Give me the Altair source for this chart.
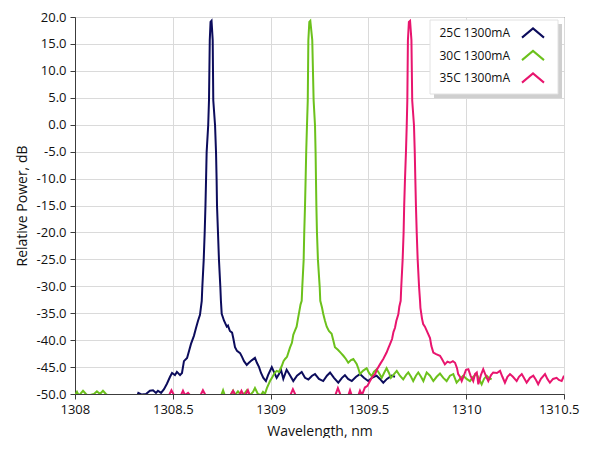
import altair as alt
import pandas as pd

series_names = ["25C 1300mA", "30C 1300mA", "35C 1300mA"]
series_colors = ["#0c0c5c", "#6cc11c", "#e8156e"]
x_ticks = [1308, 1308.5, 1309, 1309.5, 1310, 1310.5]
y_ticks = [-50, -45, -40, -35, -30, -25, -20, -15, -10, -5, 0, 5, 10, 15, 20]

blue_points = [
    (1308.000, -51), (1308.312, -51), (1308.324, -49.8), (1308.342, -50.1), (1308.363, -50.0),
    (1308.383, -49.4), (1308.399, -49.3), (1308.414, -49.8), (1308.424, -49.4), (1308.440, -49.8),
    (1308.455, -49.1), (1308.470, -48.1), (1308.486, -46.8), (1308.496, -46.1), (1308.511, -46.5),
    (1308.521, -45.9), (1308.537, -46.5), (1308.547, -46.1), (1308.557, -43.9), (1308.573, -43.3),
    (1308.583, -42.0), (1308.593, -40.7), (1308.608, -39.2), (1308.619, -37.7), (1308.629, -36.4),
    (1308.639, -35.3), (1308.648, -32.7), (1308.651, -30.1), (1308.658, -25.1), (1308.663, -20.0),
    (1308.667, -15.0), (1308.670, -10.2), (1308.673, -5.1), (1308.681, -0.1), (1308.685, 4.5),
    (1308.689, 15.7), (1308.693, 19.1), (1308.698, 19.3), (1308.704, 15.7), (1308.707, 4.5),
    (1308.716, -0.1), (1308.721, -5.1), (1308.724, -10.2), (1308.726, -15.0), (1308.731, -20.0),
    (1308.736, -25.1), (1308.743, -30.1), (1308.746, -32.7), (1308.750, -35.1), (1308.762, -36.4),
    (1308.776, -37.5), (1308.782, -37.3), (1308.792, -38.3), (1308.803, -38.6), (1308.809, -39.6),
    (1308.818, -41.3), (1308.828, -42.0), (1308.844, -42.4), (1308.854, -43.1), (1308.864, -43.9),
    (1308.878, -44.6), (1308.889, -44.2), (1308.905, -43.7), (1308.920, -43.3), (1308.930, -44.2),
    (1308.941, -45.0), (1308.951, -46.1), (1308.963, -47.0), (1308.976, -47.6), (1308.987, -46.5),
    (1309.006, -45.0), (1309.017, -45.9), (1309.031, -47.0), (1309.043, -46.3), (1309.053, -45.5),
    (1309.065, -47.2), (1309.082, -45.5), (1309.099, -46.5), (1309.116, -47.6), (1309.135, -46.6),
    (1309.159, -45.9), (1309.176, -47.0), (1309.193, -47.3), (1309.212, -46.6), (1309.227, -46.3),
    (1309.247, -47.2), (1309.269, -47.6), (1309.288, -46.6), (1309.304, -46.0), (1309.324, -47.0),
    (1309.346, -47.9), (1309.365, -47.0), (1309.380, -46.5), (1309.396, -47.2), (1309.415, -47.6),
    (1309.437, -46.8), (1309.457, -46.3), (1309.477, -47.0), (1309.499, -47.6), (1309.518, -47.0),
    (1309.542, -46.6), (1309.559, -47.2), (1309.576, -47.9), (1309.595, -47.2), (1309.619, -46.6),
    (1309.636, -46.8),
]

green_points = [
    (1308.000, -50.2), (1308.010, -49.6), (1308.020, -50.3), (1308.041, -49.4), (1308.056, -50.0),
    (1308.066, -50.3), (1308.097, -50.0), (1308.112, -49.5), (1308.128, -50.0), (1308.143, -49.4),
    (1308.158, -50.0), (1308.174, -50.4), (1308.200, -51), (1308.730, -51), (1308.746, -50.4),
    (1308.757, -49.3), (1308.767, -50.4), (1308.792, -50.4), (1308.808, -49.4), (1308.818, -50.2),
    (1308.833, -49.5), (1308.849, -50.2), (1308.869, -49.8), (1308.879, -49.3), (1308.895, -50.2),
    (1308.910, -49.6), (1308.920, -48.9), (1308.935, -50.0), (1308.951, -50.2), (1308.961, -49.6),
    (1308.971, -50.0), (1308.981, -48.9), (1308.997, -47.6), (1309.007, -47.0), (1309.020, -46.1),
    (1309.031, -45.7), (1309.043, -45.9), (1309.057, -44.8), (1309.066, -43.9), (1309.074, -43.5),
    (1309.084, -43.1), (1309.099, -41.4), (1309.109, -40.5), (1309.116, -39.0), (1309.124, -38.3),
    (1309.133, -37.5), (1309.140, -36.0), (1309.147, -34.6), (1309.153, -33.4), (1309.159, -32.7),
    (1309.162, -30.1), (1309.169, -25.1), (1309.172, -20.0), (1309.176, -15.0), (1309.179, -10.2),
    (1309.182, -5.1), (1309.186, -0.1), (1309.190, 4.5), (1309.193, 15.7), (1309.198, 19.1),
    (1309.203, 19.3), (1309.213, 15.7), (1309.220, 4.5), (1309.227, -0.1), (1309.230, -5.1),
    (1309.232, -10.2), (1309.234, -15.0), (1309.237, -20.0), (1309.242, -25.1), (1309.251, -30.1),
    (1309.254, -32.7), (1309.263, -34.0), (1309.269, -35.1), (1309.278, -36.4), (1309.287, -37.5),
    (1309.298, -38.3), (1309.312, -38.8), (1309.321, -40.1), (1309.329, -41.3), (1309.344, -41.8),
    (1309.360, -42.4), (1309.372, -42.9), (1309.385, -43.5), (1309.397, -44.2), (1309.411, -43.7),
    (1309.423, -43.5), (1309.440, -44.4), (1309.449, -45.3), (1309.457, -46.3), (1309.472, -45.7),
    (1309.491, -45.2), (1309.503, -46.1), (1309.517, -46.7), (1309.528, -45.9), (1309.542, -45.4),
    (1309.554, -46.1), (1309.568, -47.0), (1309.580, -46.1), (1309.593, -45.2), (1309.605, -46.1),
    (1309.615, -47.0), (1309.631, -46.3), (1309.645, -45.7), (1309.661, -46.6), (1309.678, -47.3),
    (1309.692, -46.5), (1309.704, -46.0), (1309.718, -46.8), (1309.729, -47.6), (1309.743, -46.6),
    (1309.755, -46.0), (1309.769, -46.8), (1309.781, -47.6), (1309.798, -46.0), (1309.815, -46.6),
    (1309.832, -47.6), (1309.849, -46.8), (1309.866, -46.2), (1309.883, -47.0), (1309.900, -47.6),
    (1309.917, -46.6), (1309.934, -46.3), (1309.951, -47.9), (1309.968, -47.2), (1309.985, -46.6),
    (1310.002, -47.2), (1310.019, -47.6), (1310.036, -46.8), (1310.054, -46.3), (1310.065, -47.2),
    (1310.079, -48.2), (1310.091, -47.2), (1310.105, -46.6), (1310.116, -47.0), (1310.130, -47.3),
]

pink_points = [
    (1308.000, -51), (1308.470, -51), (1308.481, -50.2), (1308.493, -49.3), (1308.506, -50.2),
    (1308.542, -50.2), (1308.552, -49.4), (1308.562, -50.2), (1308.578, -49.8), (1308.593, -50.4),
    (1308.639, -50.4), (1308.654, -49.3), (1308.670, -50.4), (1308.792, -50.4), (1308.808, -49.4),
    (1308.823, -50.4), (1308.838, -50.4), (1308.851, -49.4), (1308.864, -50.4), (1308.874, -50.0),
    (1308.884, -49.3), (1308.895, -50.4), (1309.099, -50.4), (1309.114, -49.1), (1309.130, -50.4),
    (1309.329, -50.4), (1309.344, -48.9), (1309.360, -50.4), (1309.396, -50.4), (1309.406, -49.3),
    (1309.416, -50.4), (1309.447, -50.4), (1309.457, -49.4), (1309.467, -50.2), (1309.482, -48.8),
    (1309.495, -48.5), (1309.508, -47.6), (1309.521, -46.8), (1309.534, -46.3), (1309.546, -45.3),
    (1309.559, -44.5), (1309.576, -43.5), (1309.593, -42.3), (1309.603, -41.4), (1309.610, -40.8),
    (1309.621, -39.8), (1309.628, -38.5), (1309.636, -37.7), (1309.643, -36.4), (1309.653, -35.2),
    (1309.658, -33.8), (1309.665, -32.7), (1309.668, -30.1), (1309.675, -25.1), (1309.680, -20.0),
    (1309.683, -15.0), (1309.687, -10.2), (1309.692, -5.1), (1309.696, -0.1), (1309.699, 4.5),
    (1309.702, 15.7), (1309.707, 19.1), (1309.713, 19.3), (1309.720, 15.7), (1309.724, 4.5),
    (1309.733, -0.1), (1309.737, -5.1), (1309.740, -10.2), (1309.743, -15.0), (1309.747, -20.0),
    (1309.752, -25.1), (1309.759, -30.1), (1309.764, -32.7), (1309.766, -34.0), (1309.774, -36.0),
    (1309.780, -37.0), (1309.789, -37.5), (1309.806, -38.9), (1309.815, -39.6), (1309.822, -41.1),
    (1309.832, -42.3), (1309.846, -42.6), (1309.866, -42.9), (1309.876, -43.5), (1309.891, -44.5),
    (1309.904, -44.0), (1309.917, -44.2), (1309.932, -43.9), (1309.943, -44.2), (1309.953, -45.2),
    (1309.959, -46.3), (1309.968, -46.8), (1309.977, -47.6), (1309.989, -46.5), (1309.999, -45.5),
    (1310.011, -45.4), (1310.022, -46.6), (1310.036, -47.6), (1310.045, -46.3), (1310.054, -46.0),
    (1310.062, -48.2), (1310.075, -46.5), (1310.087, -45.4), (1310.099, -46.5), (1310.113, -47.6),
    (1310.127, -46.5), (1310.138, -46.0), (1310.157, -46.1), (1310.173, -45.7), (1310.185, -46.8),
    (1310.198, -47.9), (1310.211, -46.8), (1310.224, -46.3), (1310.239, -46.8), (1310.258, -47.6),
    (1310.270, -46.8), (1310.284, -46.3), (1310.295, -47.0), (1310.309, -47.9), (1310.326, -47.0),
    (1310.343, -46.6), (1310.357, -47.4), (1310.368, -48.2), (1310.382, -47.2), (1310.403, -46.3),
    (1310.415, -47.2), (1310.428, -47.9), (1310.444, -47.2), (1310.462, -47.0), (1310.474, -47.4),
    (1310.488, -47.6), (1310.500, -46.6),
]

rows = []
for name, pts in zip(series_names, [blue_points, green_points, pink_points]):
    for i, (x, y) in enumerate(pts):
        rows.append({"series": name, "wavelength": x, "power": y, "i": i})
df = pd.DataFrame(rows)

FONT = "Open Sans"
FRAME = "#3c3c3c"
GRID = "#dadada"

x_axis = alt.Axis(
    values=x_ticks, format="~f", title="Wavelength, nm", grid=True, gridColor=GRID,
    tickSize=5, labelPadding=4, titlePadding=8, labelFlush=True, labelFlushOffset=15,
)
y_axis = alt.Axis(
    values=y_ticks,
    labelExpr="(datum.value < 0 ? '-' : '') + format(abs(datum.value), '.1f')",
    title="Relative Power, dB", grid=True, gridColor=GRID,
    tickSize=5, labelPadding=4, titlePadding=7, labelFlush=False,
)

lines = alt.Chart(df).mark_line(clip=True, strokeWidth=2).encode(
    x=alt.X("wavelength:Q", scale=alt.Scale(domain=[1308, 1310.5], nice=False, zero=False), axis=x_axis),
    y=alt.Y("power:Q", scale=alt.Scale(domain=[-50, 20], nice=False, zero=False), axis=y_axis),
    color=alt.Color("series:N", scale=alt.Scale(domain=series_names, range=series_colors), legend=None),
    order="i:Q",
)

one = pd.DataFrame({"a": [0]})
shadow = alt.Chart(one).mark_rect(color="#cfcfcf").encode(
    x=alt.value(359), x2=alt.value(487), y=alt.value(7), y2=alt.value(81)
)
box = alt.Chart(one).mark_rect(fill="white", stroke="#e2e2e2", strokeWidth=1).encode(
    x=alt.value(355), x2=alt.value(483), y=alt.value(3), y2=alt.value(77)
)

layers = [lines, shadow, box]
chevron = "M-1,0.42L0,-0.42L1,0.42"
for k, (name, col) in enumerate(zip(series_names, series_colors)):
    ypos = 16 + 22.5 * k
    lbl = pd.DataFrame({"label": [name]})
    layers.append(
        alt.Chart(lbl).mark_text(align="right", baseline="middle", font=FONT, fontSize=12, color="#111111").encode(
            text="label:N", x=alt.value(435), y=alt.value(ypos)
        )
    )
    layers.append(
        alt.Chart(lbl).mark_point(shape=chevron, filled=False, strokeWidth=2, size=484, color=col, opacity=1).encode(
            x=alt.value(458), y=alt.value(ypos)
        )
    )

chart = alt.layer(*layers).properties(
    width=489, height=377,
    padding={"left": 67, "top": 9, "right": 17, "bottom": 44},
    autosize=alt.AutoSizeParams(type="none"),
    background="white",
).configure_view(
    stroke=FRAME, strokeWidth=1
).configure_axis(
    domainColor=FRAME, tickColor=FRAME, labelFont=FONT, titleFont=FONT,
    labelColor="#111111", titleColor="#111111", labelFontSize=13, titleFontSize=14,
    titleFontWeight="normal",
)

chart.save("out.html", embed_options={"renderer": "svg", "actions": False})
